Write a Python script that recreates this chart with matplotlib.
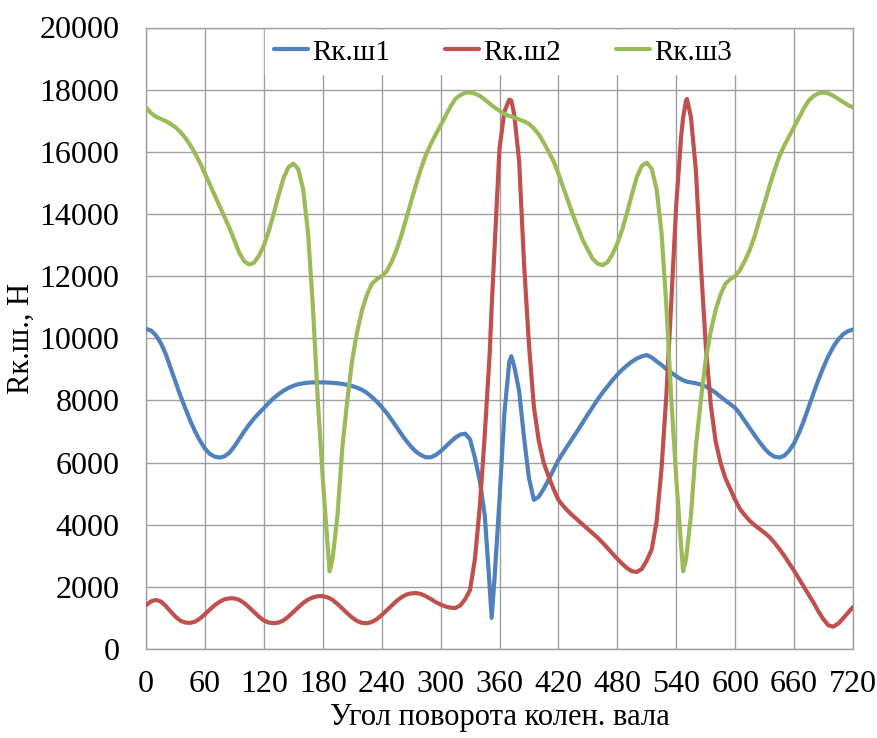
import matplotlib
matplotlib.use("Agg")
import matplotlib.pyplot as plt

plt.rcParams['font.family'] = ['Liberation Serif', 'DejaVu Serif']

angle = [
    0, 5, 10, 15, 20, 25, 30, 35, 40, 45, 50, 55,
    60, 65, 70, 75, 80, 85, 90, 95, 100, 105, 110, 115,
    120, 125, 130, 135, 140, 145, 150, 155, 160, 165, 170, 175,
    180, 185, 187, 190, 195, 200, 205, 210, 215, 220, 225, 230, 235,
    240, 245, 250, 255, 260, 265, 270, 275, 280, 285, 290, 295,
    300, 305, 310, 315, 320, 325, 330, 335, 340, 345, 350, 352, 355,
    360, 365, 370, 372, 375, 380, 385, 390, 395, 400, 405, 410, 415,
    420, 425, 430, 435, 440, 445, 450, 455, 460, 465, 470, 475,
    480, 485, 490, 495, 500, 505, 510, 515, 520, 525, 530, 535,
    540, 545, 547, 550, 551, 555, 560, 565, 570, 575, 580, 585, 590, 595,
    600, 605, 610, 615, 620, 625, 630, 635, 640, 645, 650, 655,
    660, 665, 670, 675, 680, 685, 690, 695, 700, 705, 710, 715,
    720,
]

r_ksh1 = [
    10300, 10250, 10100, 9850, 9500, 9050, 8600, 8150, 7750, 7350, 7000, 6700,
    6450, 6280, 6190, 6160, 6200, 6320, 6520, 6760, 7000, 7220, 7420, 7590,
    7750, 7920, 8070, 8200, 8310, 8400, 8470, 8520, 8550, 8570, 8580, 8580,
    8580, 8575, 8572, 8565, 8550, 8530, 8500, 8460, 8410, 8340, 8240, 8110, 7960,
    7790, 7600, 7380, 7150, 6920, 6700, 6510, 6350, 6240, 6170, 6170, 6240,
    6360, 6510, 6660, 6800, 6900, 6930, 6750, 6150, 5400, 4300, 2000, 1000, 2300,
    4800, 7600, 9250, 9420, 9100, 8300, 6800, 5500, 4800, 4900, 5150, 5450, 5770,
    6080, 6330, 6570, 6810, 7050, 7300, 7550, 7790, 8030, 8250, 8450, 8650,
    8830, 8990, 9130, 9250, 9350, 9420, 9460, 9380, 9260, 9140, 9010, 8890,
    8780, 8680, 8650, 8610, 8600, 8580, 8550, 8510, 8450, 8360, 8250, 8120, 8000, 7880,
    7760, 7560, 7330, 7100, 6870, 6650, 6450, 6290, 6190, 6160, 6220, 6380,
    6620, 6950, 7350, 7800, 8250, 8680, 9080, 9430, 9730, 9960, 10130, 10230,
    10280,
]

r_ksh2 = [
    1410, 1530, 1580, 1530, 1390, 1210, 1040, 910, 850, 840, 880, 980,
    1120, 1270, 1410, 1520, 1600, 1630, 1630, 1580, 1480, 1340, 1190, 1040,
    920, 850, 830, 850, 920, 1040, 1190, 1340, 1480, 1590, 1660, 1700,
    1700, 1660, 1630, 1580, 1450, 1300, 1150, 1010, 900, 840, 830, 870, 960,
    1090, 1240, 1390, 1540, 1660, 1750, 1790, 1800, 1770, 1700, 1610, 1510,
    1430, 1370, 1330, 1320, 1400, 1600, 1900, 2900, 4600, 6900, 9500, 11000, 12900,
    16100, 17300, 17680, 17650, 17200, 15700, 12400, 9800, 7800, 6700, 6000, 5550, 5150,
    4800, 4600, 4430, 4280, 4140, 4000, 3860, 3720, 3580, 3420, 3250, 3070,
    2900, 2740, 2600, 2500, 2480, 2580, 2850, 3200, 4100, 5800, 8200, 11200,
    14300, 16500, 17100, 17650, 17700, 17100, 15400, 12400, 9800, 7900, 6700, 6000, 5500, 5150,
    4800, 4500, 4300, 4120, 3980, 3860, 3740, 3600, 3420, 3220, 3000, 2760,
    2520, 2260, 2000, 1740, 1480, 1200, 950, 760, 720, 820, 990, 1170,
    1350,
]

r_ksh3 = [
    17430, 17250, 17130, 17060, 16990, 16900, 16790, 16640, 16450, 16220, 15950, 15640,
    15300, 14950, 14600, 14250, 13900, 13550, 13150, 12750, 12480, 12370, 12430, 12650,
    12980, 13450, 14000, 14600, 15150, 15500, 15620, 15450, 14800, 13400, 11000, 8000,
    5500, 3300, 2500, 2900, 4300, 6500, 8000, 9300, 10200, 10900, 11400, 11750, 11900,
    12000, 12150, 12450, 12830, 13300, 13850, 14400, 14950, 15450, 15900, 16250, 16550,
    16850, 17150, 17450, 17700, 17820, 17900, 17910, 17870, 17800, 17680, 17550, 17500, 17430,
    17320, 17220, 17150, 17140, 17100, 17040, 16980, 16900, 16750, 16560, 16300, 16000, 15700,
    15300, 14850, 14400, 13950, 13550, 13150, 12850, 12550, 12400, 12350, 12450, 12700,
    13050, 13500, 14050, 14650, 15200, 15550, 15650, 15450, 14800, 13400, 11000, 8000,
    5500, 3300, 2500, 2900, 3200, 4300, 6500, 8000, 9300, 10200, 10900, 11400, 11750, 11900,
    12000, 12200, 12500, 12850, 13300, 13850, 14350, 14900, 15400, 15850, 16200, 16500,
    16800, 17100, 17400, 17650, 17800, 17880, 17910, 17880, 17800, 17700, 17600, 17500,
    17430,
]

series_names = ['Rк.ш1', 'Rк.ш2', 'Rк.ш3']
series_colors = ['#4F81BD', '#C0504D', '#9BBB59']
x_ticks = [0, 60, 120, 180, 240, 300, 360, 420, 480, 540, 600, 660, 720]
y_ticks = [0, 2000, 4000, 6000, 8000, 10000, 12000, 14000, 16000, 18000, 20000]
x_label = 'Угол поворота колен. вала'
y_label = 'Rк.ш., Н'

fig = plt.figure(figsize=(8.78, 7.38), dpi=100)
ax = fig.add_axes([146 / 878, 1 - 649 / 738, 707 / 878, 621.5 / 738])

for vals, name, col in zip([r_ksh1, r_ksh2, r_ksh3], series_names, series_colors):
    ax.plot(angle, vals, color=col, lw=3.0, label=name, solid_capstyle='round',
            solid_joinstyle='round', zorder=3)

ax.set_xlim(0, 720)
ax.set_ylim(0, 20000)
ax.set_xticks(x_ticks)
ax.set_yticks(y_ticks)
ax.grid(True, color='#a0a0a0', lw=1.0, zorder=0)
ax.set_axisbelow(True)
for s in ax.spines.values():
    s.set_color('#a0a0a0')
    s.set_linewidth(1.0)
ax.tick_params(axis='both', length=0, labelsize=23, colors='black')
ax.tick_params(axis='y', pad=19)
ax.tick_params(axis='x', pad=15)
ax.set_xlabel(x_label, fontsize=22, labelpad=3)
ax.set_ylabel(y_label, fontsize=22, labelpad=3)

leg = ax.legend(loc='center', bbox_to_anchor=(0.505, 0.96), ncol=3, frameon=True,
                fontsize=21, handlelength=1.15, handletextpad=0.15, columnspacing=1.9,
                borderpad=0.3, fancybox=False)
leg.get_frame().set_facecolor('white')
leg.get_frame().set_edgecolor('white')
leg.get_frame().set_alpha(1.0)

fig.savefig('out.png', dpi=100)
